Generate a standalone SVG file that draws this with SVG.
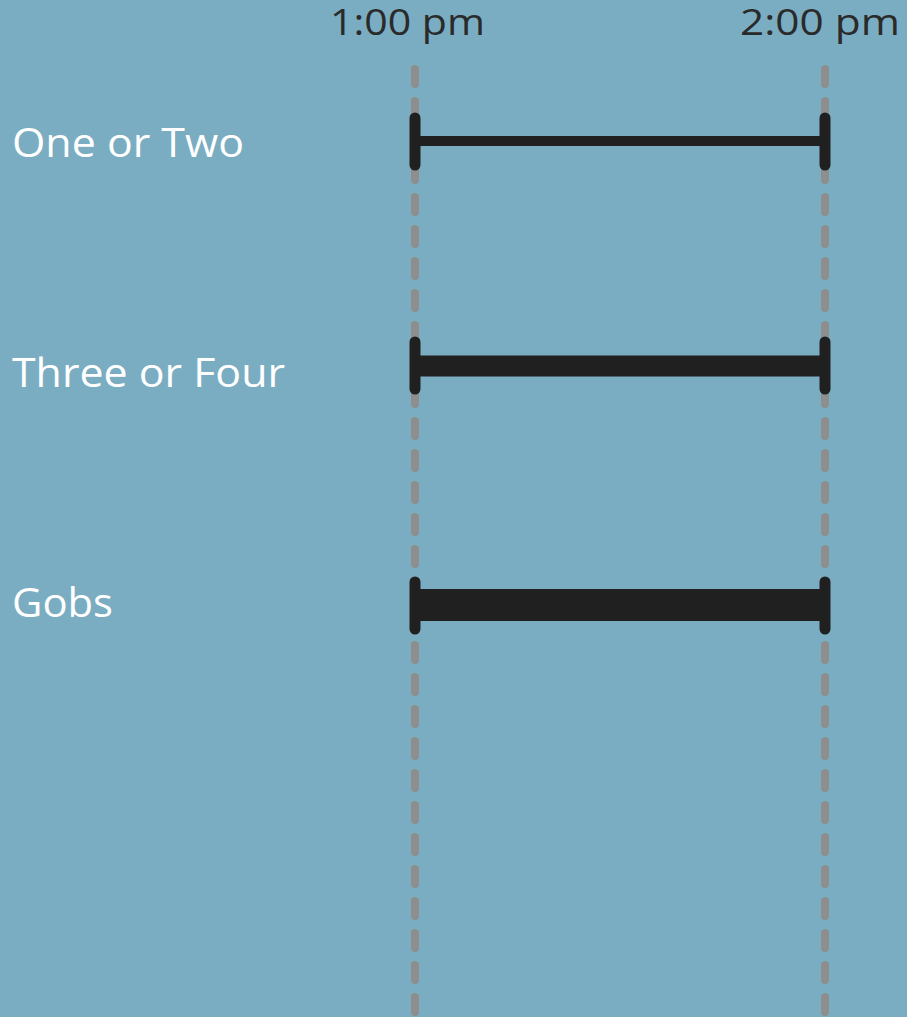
<svg xmlns="http://www.w3.org/2000/svg" width="907" height="1017" viewBox="0 0 907 1017">
<style>
.grid{stroke:#8e8e8e;stroke-width:8;stroke-linecap:round;stroke-dasharray:15 17;fill:none}
.tick{stroke:#202020;stroke-width:11;stroke-linecap:round;fill:none}
.bar{stroke:#202020;fill:none}
.lbl{font-family:"Open Sans","Liberation Sans",sans-serif;font-size:40px;fill:#ffffff}
.time{font-family:"Open Sans","Liberation Sans",sans-serif;font-size:36px;fill:#2a2a2a}
</style>
<rect x="0" y="0" width="907" height="1017" fill="#7aadc2"/>
<g id="axis">
<text class="time" x="330" y="35" textLength="155" lengthAdjust="spacingAndGlyphs">1:00 pm</text>
<text class="time" x="740" y="35" textLength="160" lengthAdjust="spacingAndGlyphs">2:00 pm</text>
</g>
<g id="gridlines">
<line class="grid" x1="415" y1="69" x2="415" y2="1030"/>
<line class="grid" x1="825" y1="69" x2="825" y2="1030"/>
</g>
<g id="row1">
<text class="lbl" x="12" y="157" textLength="232" lengthAdjust="spacingAndGlyphs">One or Two</text>
<line class="bar" x1="415" y1="141" x2="825" y2="141" stroke-width="10"/>
<line class="tick" x1="415" y1="118" x2="415" y2="165"/>
<line class="tick" x1="825" y1="118" x2="825" y2="165"/>
</g>
<g id="row2">
<text class="lbl" x="12" y="387" textLength="273" lengthAdjust="spacingAndGlyphs">Three or Four</text>
<line class="bar" x1="415" y1="366" x2="825" y2="366" stroke-width="21"/>
<line class="tick" x1="415" y1="342" x2="415" y2="389"/>
<line class="tick" x1="825" y1="342" x2="825" y2="389"/>
</g>
<g id="row3">
<text class="lbl" x="12" y="617" textLength="101" lengthAdjust="spacingAndGlyphs">Gobs</text>
<line class="bar" x1="415" y1="605" x2="825" y2="605" stroke-width="32"/>
<line class="tick" x1="415" y1="582" x2="415" y2="629"/>
<line class="tick" x1="825" y1="582" x2="825" y2="629"/>
</g>
</svg>
